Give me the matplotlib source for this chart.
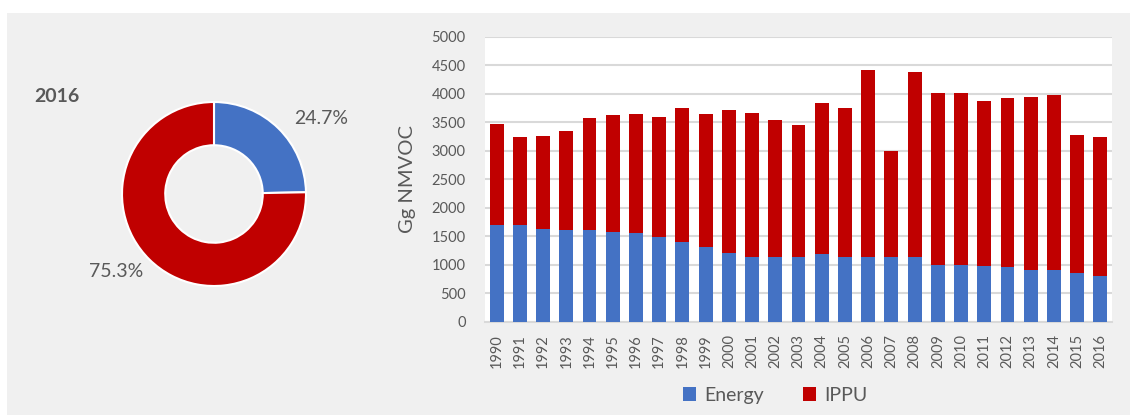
import matplotlib
matplotlib.use("Agg")
import matplotlib.pyplot as plt
from matplotlib.patches import Rectangle
import numpy as np

plt.rcParams['font.family'] = ['Lato', 'DejaVu Sans']

years = [str(y) for y in range(1990, 2017)]
energy = [1690, 1690, 1630, 1600, 1600, 1580, 1560, 1480, 1400, 1310, 1210, 1130, 1130, 1130,
          1180, 1140, 1130, 1140, 1140, 1000, 1000, 980, 960, 900, 900, 850, 800]
total = [3470, 3240, 3260, 3340, 3570, 3620, 3640, 3590, 3750, 3640, 3720, 3660, 3540, 3450,
         3830, 3750, 4410, 2990, 4380, 4020, 4020, 3870, 3930, 3950, 3980, 3280, 3240]
ippu = [t - e for t, e in zip(total, energy)]

donut_labels = ['Energy', 'IPPU']
donut_values = [24.7, 75.3]
donut_year = '2016'

BLUE = '#4472C4'
RED = '#C00000'
TXT = '#595959'
GRID = '#D9D9D9'
BG = '#F0F0F0'

W, H = 1130, 415
fig = plt.figure(figsize=(W / 100, H / 100), dpi=100, facecolor='white')
fig.patches.append(Rectangle((7 / W, 0), 1 - 7 / W, 1 - 13 / H, transform=fig.transFigure,
                             facecolor=BG, edgecolor='none', zorder=-10))

# ---- bar chart ----
ax = fig.add_axes([485 / W, 1 - 321.7 / H, (1112 - 485) / W, (321.7 - 36.7) / H])
ax.set_facecolor('white')
x = np.arange(len(years))
ax.bar(x, energy, width=0.6, color=BLUE, label='Energy', zorder=3)
ax.bar(x, ippu, width=0.6, bottom=energy, color=RED, label='IPPU', zorder=3)
ax.set_xlim(-0.5, len(years) - 0.5)
ax.set_ylim(0, 5000)
ax.set_yticks(range(0, 5001, 500))
ax.set_xticks(x)
ax.set_xticklabels(years, rotation=90, fontsize=10.5, color=TXT)
ax.tick_params(axis='y', labelsize=10.5, labelcolor=TXT, length=0, pad=14)
ax.tick_params(axis='x', length=0, pad=9)
ax.yaxis.grid(True, color=GRID, linewidth=1.5, zorder=0)
for s in ['top', 'right', 'left']:
    ax.spines[s].set_visible(False)
ax.spines['bottom'].set_color(GRID)
ax.spines['bottom'].set_linewidth(1.5)
ax.set_ylabel('Gg NMVOC', fontsize=14.5, color=TXT, labelpad=11)

leg = fig.legend(loc='center', bbox_to_anchor=(775 / W, 1 - 395 / H), ncol=2, frameon=False,
                 fontsize=14, handlelength=0.7, handleheight=0.7, handletextpad=0.4,
                 columnspacing=2.0)
for t in leg.get_texts():
    t.set_color(TXT)

# ---- donut ----
cx, cy, R = 214, 194, 92
half = 150
dax = fig.add_axes([(cx - half) / W, 1 - (cy + half) / H, 2 * half / W, 2 * half / H])
dax.set_facecolor('none')
dax.pie(donut_values, colors=[BLUE, RED], startangle=90, counterclock=False, radius=1,
        wedgeprops=dict(width=0.47, edgecolor='white', linewidth=1.5))
dax.set_xlim(-half / R, half / R)
dax.set_ylim(-half / R, half / R)
dax.set_aspect('equal')
dax.axis('off')
dax.text(1.163, 0.826, f'{donut_values[0]:.1f}%', fontsize=14, color=TXT, ha='center', va='center')
dax.text(-1.065, -0.837, f'{donut_values[1]:.1f}%', fontsize=14, color=TXT, ha='center', va='center')
fig.text(57 / W, 1 - 96 / H, donut_year, fontsize=14, fontweight='bold', color=TXT,
         ha='center', va='center')

fig.savefig('out.png', dpi=100, facecolor='white')
